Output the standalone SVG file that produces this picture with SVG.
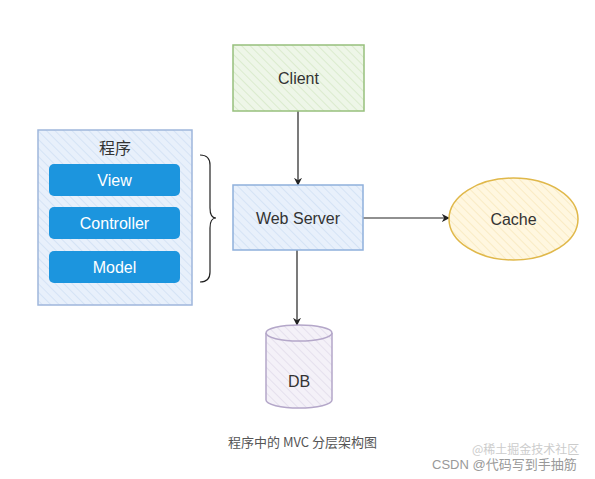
<svg xmlns="http://www.w3.org/2000/svg" width="595" height="479" viewBox="0 0 595 479">
<style>
.t{font-family:"Liberation Sans","Noto Sans CJK SC",sans-serif;fill:#333;font-size:16px;text-anchor:middle;dominant-baseline:central}
.w{fill:#fff}
.c{stroke:#222;stroke-width:1.2;fill:none}
</style>
<defs>
<marker id="ar" viewBox="0 0 10 10" refX="9" refY="5" markerWidth="8" markerHeight="8" orient="auto" markerUnits="userSpaceOnUse"><path d="M0,0 L10,5 L0,10 L3,5 z" fill="#222"/></marker>
<pattern id="hg" width="6" height="6" patternUnits="userSpaceOnUse" patternTransform="rotate(-45)"><rect width="6" height="6" fill="#eef6e8"/><line x1="0" y1="0" x2="0" y2="6" stroke="#d5e8c6" stroke-width="1.5"/></pattern>
<pattern id="hb" width="6" height="6" patternUnits="userSpaceOnUse" patternTransform="rotate(-45)"><rect width="6" height="6" fill="#e8f0fb"/><line x1="0" y1="0" x2="0" y2="6" stroke="#cfdff4" stroke-width="1.5"/></pattern>
<pattern id="hy" width="6" height="6" patternUnits="userSpaceOnUse" patternTransform="rotate(-45)"><rect width="6" height="6" fill="#fff7e0"/><line x1="0" y1="0" x2="0" y2="6" stroke="#f8e8bb" stroke-width="1.5"/></pattern>
<pattern id="hp" width="6" height="6" patternUnits="userSpaceOnUse" patternTransform="rotate(-45)"><rect width="6" height="6" fill="#f4f1f8"/><line x1="0" y1="0" x2="0" y2="6" stroke="#e1dbea" stroke-width="1.5"/></pattern>
</defs>
<g id="connectors">
<line class="c" x1="298" y1="111" x2="298" y2="185" marker-end="url(#ar)"/>
<line class="c" x1="363" y1="218" x2="449" y2="218" marker-end="url(#ar)"/>
<line class="c" x1="297" y1="250" x2="297" y2="325" marker-end="url(#ar)"/>
<path class="c" d="M200,155 Q210,155 210,165 L210,208 Q210,218 216,218 Q210,218 210,228 L210,272 Q210,282 200,282"/>
</g>
<g id="program">
<rect x="38" y="130" width="154" height="175" fill="url(#hb)" stroke="#9fb6dc" stroke-width="1.5"/>
<text class="t" x="115" y="148">程序</text>
</g>
<g id="view">
<rect x="49" y="164" width="131" height="32" rx="5" fill="#1c95de"/>
<text class="t w" x="114.5" y="180.5">View</text>
</g>
<g id="controller">
<rect x="49" y="207" width="131" height="32" rx="5" fill="#1c95de"/>
<text class="t w" x="114.5" y="223.5">Controller</text>
</g>
<g id="model">
<rect x="49" y="251" width="131" height="32" rx="5" fill="#1c95de"/>
<text class="t w" x="114.5" y="267.5">Model</text>
</g>
<g id="client">
<rect x="233" y="45" width="131" height="66" fill="url(#hg)" stroke="#97c07c" stroke-width="1.5"/>
<text class="t" x="298.5" y="78">Client</text>
</g>
<g id="webserver">
<rect x="233" y="185" width="130" height="65" fill="url(#hb)" stroke="#8fb0dc" stroke-width="1.5"/>
<text class="t" x="298" y="218">Web Server</text>
</g>
<g id="cache">
<ellipse cx="513.5" cy="219" rx="64.5" ry="41" fill="url(#hy)" stroke="#e0b84a" stroke-width="1.5"/>
<text class="t" x="513.5" y="219">Cache</text>
</g>
<g id="db">
<path d="M266,333 L266,400 A33,8 0 0 0 332,400 L332,333" fill="url(#hp)" stroke="#b4a7c9" stroke-width="1.5"/>
<ellipse cx="299" cy="333" rx="33" ry="8" fill="url(#hp)" stroke="#b4a7c9" stroke-width="1.5"/>
<text class="t" x="299" y="381">DB</text>
</g>
<text x="228" y="447" style="font-family:'Noto Sans CJK SC',sans-serif;font-size:13px;fill:#555">程序中的 MVC 分层架构图</text>
<text x="472" y="454" style="font-family:'Noto Sans CJK SC',sans-serif;font-size:12px;fill:#ccc">@稀土掘金技术社区</text>
<text x="432" y="469" style="font-family:'Liberation Sans','Noto Sans CJK SC',sans-serif;font-size:13px;fill:#999">CSDN @代码写到手抽筋</text>
</svg>
